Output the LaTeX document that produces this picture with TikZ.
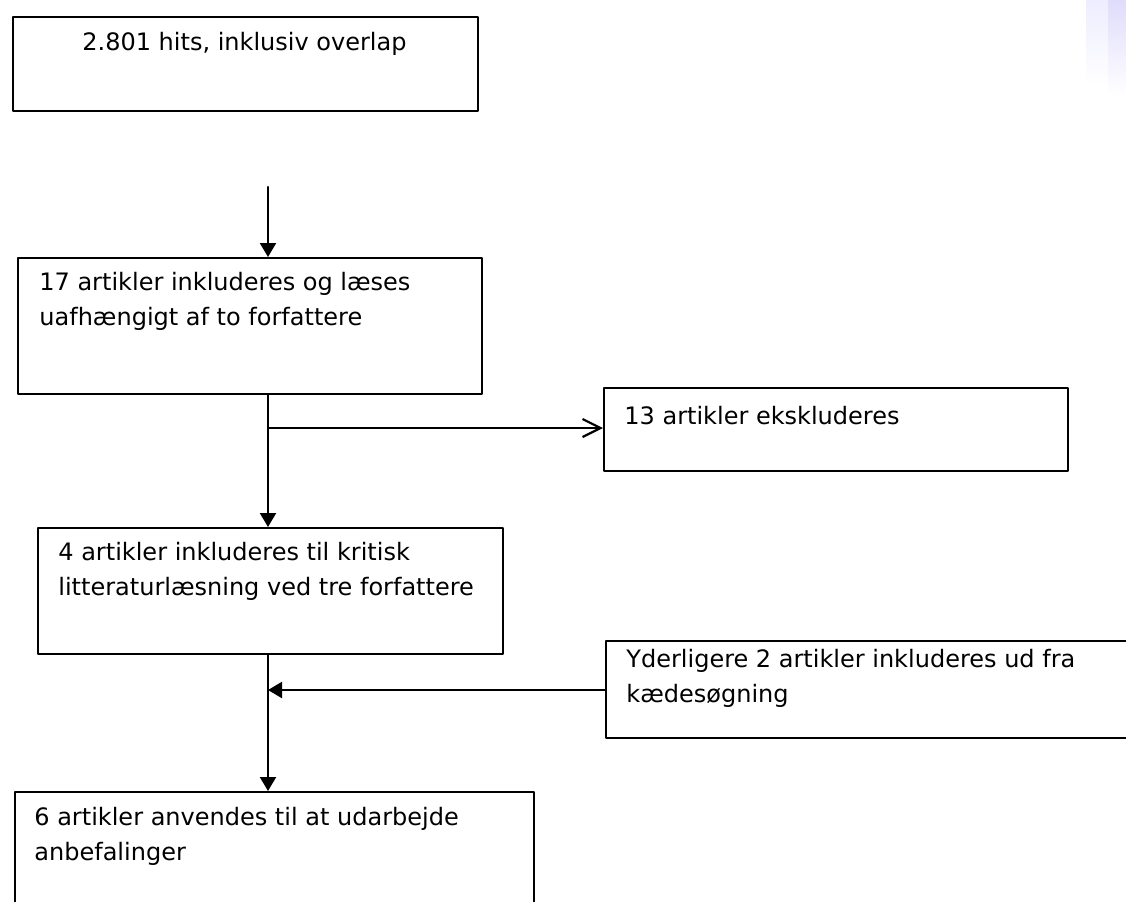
\documentclass[tikz,border=0pt]{standalone}
\usepackage{fontspec}
\setmainfont{DejaVu Sans}
\usetikzlibrary{arrows.meta}
\tikzset{
  boks/.style={draw, line width=1.1pt, inner sep=0pt, anchor=north west},
  tekst/.style={anchor=base west, inner sep=0pt, align=left, font=\fontsize{12}{17.5}\selectfont},
  pil/.style={line width=1.1pt, -{Triangle[length=7pt,width=8pt]}},
  aabenpil/.style={line width=1.1pt, -{Straight Barb[length=9pt,width=9pt]}}
}
\begin{document}
\begin{tikzpicture}[x=0.5pt,y=-0.5pt,line cap=round,line join=round]
\useasboundingbox (0,0) rectangle (1126,901);
\shade[top color=violet!22!blue!14, bottom color=white, draw=none] (1108,0) rectangle (1126,95);
\shade[top color=blue!7, bottom color=white, draw=none] (1086,0) rectangle (1108,85);
% kasser
\node[boks, minimum width=232.5pt, minimum height=47pt] (hits) at (12,16) {};
\node[boks, minimum width=232pt, minimum height=68pt] (laes) at (17,257) {};
\node[boks, minimum width=232pt, minimum height=41.5pt] (eksk) at (603,387) {};
\node[boks, minimum width=232.5pt, minimum height=63pt] (krit) at (37,527) {};
\node[boks, minimum width=270pt, minimum height=48.5pt] (kaede) at (605,640) {};
\node[boks, minimum width=259.5pt, minimum height=70pt] (anv) at (14,791) {};
% tekster
\node[tekst, anchor=base] (t1) at (244.5,50) {2.801 hits, inklusiv overlap};
\node[tekst] (t2) at (39,325) {17 artikler inkluderes og læses\\uafhængigt af to forfattere};
\node[tekst] (t3) at (624,424) {13 artikler ekskluderes};
\node[tekst] (t4) at (58,595) {4 artikler inkluderes til kritisk\\litteraturlæsning ved tre forfattere};
\node[tekst] (t5) at (626,702) {Yderligere 2 artikler inkluderes ud fra\\kædesøgning};
\node[tekst] (t6) at (34,860) {6 artikler anvendes til at udarbejde\\anbefalinger};
% pile
\coordinate (start) at (268,187);
\coordinate (gren) at (268,428);
\coordinate (indgang) at (268,690);
\draw[pil] (start) -- (start |- laes.north);
\draw[pil] (start |- laes.south) -- (start |- krit.north);
\draw[aabenpil] (gren) -- (gren -| eksk.west);
\draw[pil] (indgang -| kaede.west) -- (indgang);
\draw[pil] (start |- krit.south) -- (start |- anv.north);
\end{tikzpicture}
\end{document}
